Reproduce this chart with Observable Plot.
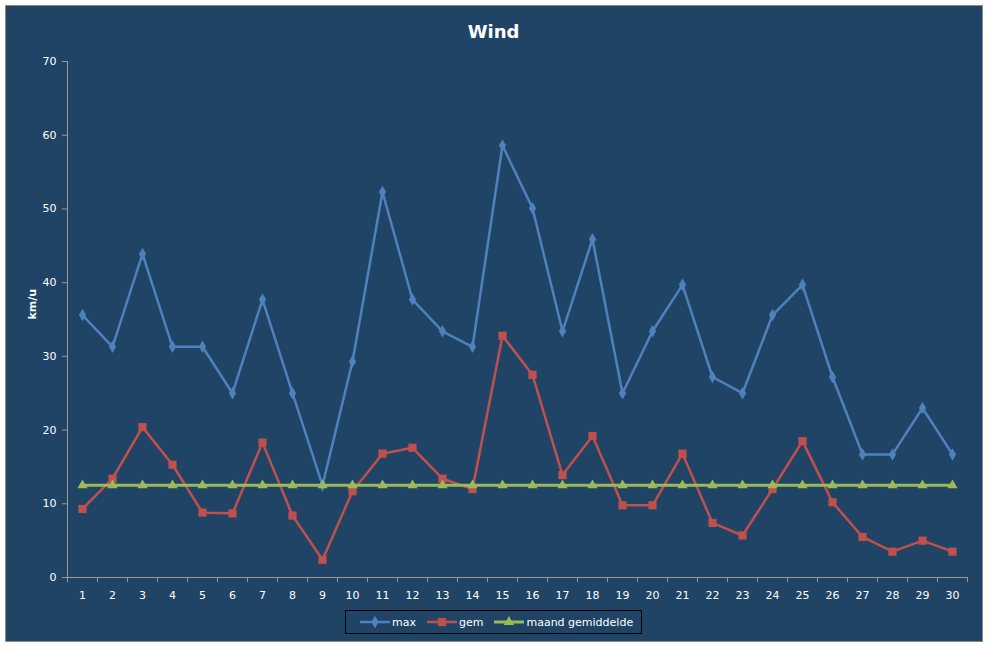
<!DOCTYPE html>
<html>
<head>
<meta charset="utf-8">
<script src="https://cdn.jsdelivr.net/npm/d3@7"></script>
<script src="https://cdn.jsdelivr.net/npm/@observablehq/plot@0.6"></script>
<style>
  html, body { margin: 0; padding: 0; background: #fff; }
  #wrap { position: relative; width: 987px; height: 648px; background: #fff; font-family: "DejaVu Sans", Verdana, sans-serif; }
  #panel { position: absolute; left: 5px; top: 5px; width: 976px; height: 635px; background: #1F4466; border: 1px solid #8a8a8a; }
  #chart { position: absolute; left: 0; top: 0; }
  #title { position: absolute; left: 0; width: 987px; top: 21px; text-align: center; color: #fff; font-weight: bold; font-size: 18px; }
  #legend { position: absolute; left: 345px; top: 610px; width: 297px; height: 24px; border: 1px solid #000; box-sizing: border-box; display: flex; align-items: center; color: #fff; font-size: 11px; }
  .item { display: flex; align-items: center; margin-left: 11px; }
  .item:first-child { margin-left: 14px; }
  .item svg { margin-right: 2px; }
</style>
</head>
<body>
<div id="wrap">
  <div id="panel"></div>
  <div id="chart"></div>
  <div id="title">Wind</div>
  <div id="legend"></div>
</div>
<script>
const days = d3.range(1, 31);
const maxValues = [35.6, 31.3, 43.9, 31.3, 31.3, 25.0, 37.7, 25.0, 12.5, 29.3,
                   52.3, 37.7, 33.4, 31.3, 58.6, 50.1, 33.4, 45.9, 25.0, 33.4,
                   39.7, 27.2, 25.0, 35.6, 39.7, 27.2, 16.7, 16.7, 23.0, 16.7];
const gemValues = [9.3, 13.4, 20.4, 15.3, 8.8, 8.7, 18.3, 8.4, 2.4, 11.7,
                   16.8, 17.6, 13.4, 12.0, 32.8, 27.5, 13.9, 19.2, 9.8, 9.8,
                   16.8, 7.4, 5.7, 12.0, 18.5, 10.2, 5.5, 3.5, 5.0, 3.5];
const maandGemiddelde = 12.5;
const yTicks = [0, 10, 20, 30, 40, 50, 60, 70];
const seriesNames = ["max", "gem", "maand gemiddelde"];
const colors = ["#4F81BD", "#C0504D", "#9BBB59"];
const symbols = ["diamond", "square", "triangle"];

const maxData = days.map((d, i) => ({day: d, v: maxValues[i]}));
const gemData = days.map((d, i) => ({day: d, v: gemValues[i]}));
const avgData = days.map(d => ({day: d, v: maandGemiddelde}));
const boundaries = d3.range(0, 31).map(i => i + 0.5);

const plot = Plot.plot({
  width: 987,
  height: 648,
  marginLeft: 67,
  marginRight: 20,
  marginTop: 61,
  marginBottom: 71,
  style: {background: "transparent", color: "#fff", fontFamily: "DejaVu Sans, Verdana, sans-serif", fontSize: "11px"},
  x: {domain: [0.5, 30.5]},
  y: {domain: [0, 70]},
  marks: [
    Plot.axisY(yTicks, {tickSize: 5, tickPadding: 6, stroke: "#9a9a9a", fill: "#fff", label: null, fontSize: 11}),
    Plot.axisX(boundaries, {tickSize: 5, tickFormat: () => "", stroke: "#9a9a9a", label: null}),
    Plot.axisX(days, {tickSize: 0, tickPadding: 14, fill: "#fff", label: null, fontSize: 11}),
    Plot.ruleY([0], {stroke: "#9a9a9a"}),
    Plot.ruleX([0.5], {stroke: "#9a9a9a"}),
    Plot.text(["km/u"], {frameAnchor: "left", dx: -35, rotate: -90, fill: "#fff", fontWeight: "bold", fontSize: 11}),
    Plot.line(maxData, {x: "day", y: "v", stroke: colors[0], strokeWidth: 2.5}),
    Plot.dot(maxData, {x: "day", y: "v", symbol: symbols[0], r: 3.8, fill: colors[0]}),
    Plot.line(gemData, {x: "day", y: "v", stroke: colors[1], strokeWidth: 2.5}),
    Plot.dot(gemData, {x: "day", y: "v", symbol: symbols[1], r: 4.6, fill: colors[1]}),
    Plot.line(avgData, {x: "day", y: "v", stroke: colors[2], strokeWidth: 3}),
    Plot.dot(avgData, {x: "day", y: "v", symbol: symbols[2], r: 3.8, fill: colors[2]})
  ]
});
document.getElementById("chart").appendChild(plot);

// legend
const legend = document.getElementById("legend");
const symSizes = [3.8, 4.6, 3.8];
const symbolTypes = [d3.symbolDiamond, d3.symbolSquare, d3.symbolTriangle];
seriesNames.forEach((name, i) => {
  const item = document.createElement("div");
  item.className = "item";
  const svg = d3.create("svg").attr("width", 30).attr("height", 12);
  svg.append("line").attr("x1", 0).attr("x2", 30).attr("y1", 6).attr("y2", 6)
    .attr("stroke", colors[i]).attr("stroke-width", i === 2 ? 3 : 2.5);
  svg.append("path").attr("transform", "translate(15,6)")
    .attr("d", d3.symbol(symbolTypes[i], Math.PI * symSizes[i] * symSizes[i])())
    .attr("fill", colors[i]);
  item.appendChild(svg.node());
  const span = document.createElement("span");
  span.textContent = name;
  item.appendChild(span);
  legend.appendChild(item);
});
</script>
</body>
</html>
